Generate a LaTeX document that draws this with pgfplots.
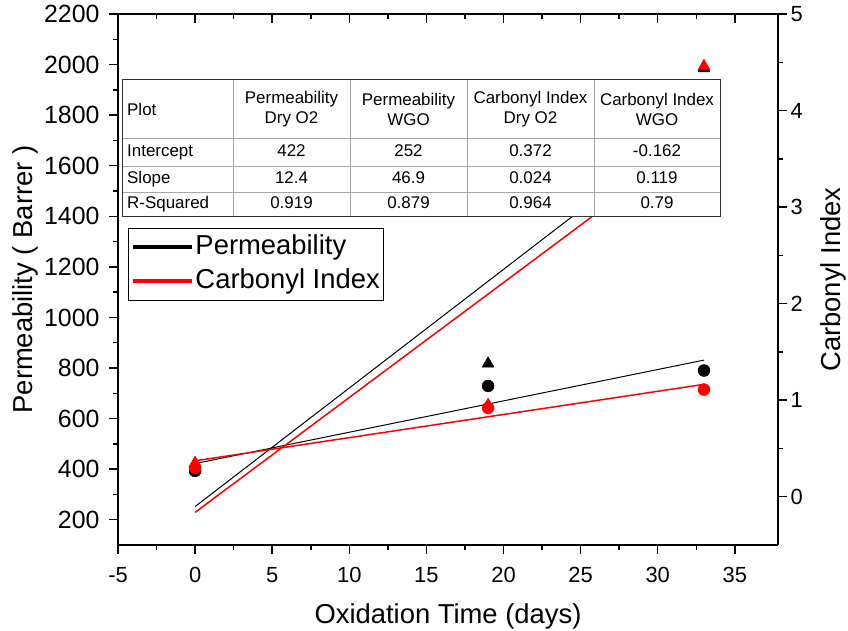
\documentclass[border=0pt]{standalone}
\usepackage{fontspec}
\setmainfont{Liberation Sans}
\usepackage{pgfplots}
\pgfplotsset{compat=1.18}
\begin{document}
\begin{tikzpicture}
\path[use as bounding box] (-118bp,-86bp) rectangle (730bp,545bp);
\pgfplotsset{
 common/.style={scale only axis, width=660bp, height=531bp, xmin=-5, xmax=37.8,
   at={(0bp,0bp)}, anchor=south west,
   /pgf/number format/assume math mode=true,
   /pgf/number format/1000 sep={},
   tick label style={font=\fontsize{22}{24}\selectfont},
   xticklabel shift=10bp,
   label style={font=\fontsize{27.5}{30}\selectfont},
   axis line style={-, line width=1.5bp},
   tick style={line width=1.5bp, black},
   major tick length=9bp, minor tick length=5bp,
   xtick={-5,0,...,35}, minor x tick num=1},
}
% left axis: permeability
\begin{axis}[common, ymin=100, ymax=2200,
  axis x line*=bottom, axis y line*=left, tick align=outside,
  ytick={200,400,...,2200}, minor y tick num=1,
  yticklabel style={font=\fontsize{25}{27}\selectfont, xshift=-6bp},
  xlabel={Oxidation Time (days)}, ylabel={Permeability ( Barrer )},
  xlabel style={at={(axis description cs:0.5,-0.1337)}, anchor=center},
  ylabel style={at={(axis description cs:-0.1409,0.5)}, anchor=center},
  legend style={at={(axis description cs:0.01515,0.597)}, anchor=north west,
    draw=black, line width=1bp, font=\fontsize{27.5}{30}\selectfont,
    inner xsep=3bp, inner ysep=5bp, row sep=6bp,
    nodes={inner sep=1bp, text height=20bp, text depth=6bp}},
  legend cell align=left,
  legend image code/.code={\draw[#1] (0bp,0bp) -- (59bp,0bp);},
  clip=false]
\addplot[forget plot, only marks, mark=*, mark size=6bp, black] coordinates {(0,393) (19,729) (33,790)};
\addplot[forget plot, only marks, mark=triangle*, mark size=7bp, black] coordinates {(0,398) (19,817) (33,1985)};
\addplot[forget plot, black, line width=1bp] coordinates {(0,422) (33,831.2)};
\addplot[forget plot, black, line width=1bp] coordinates {(0,252) (33,1799.7)};
\addlegendimage{black, line width=4bp}
\addlegendentry{Permeability}
\addlegendimage{red, line width=4bp}
\addlegendentry{Carbonyl Index}
\end{axis}
% right axis: carbonyl index
\begin{axis}[common, ymin=-0.5, ymax=5,
  axis x line=none, axis y line*=right, tick align=outside,
  ytick={0,1,...,5}, minor y tick num=1,
  ylabel={Carbonyl Index},
  ylabel style={at={(axis description cs:1.0833,0.5)}, anchor=center},
  clip=false]
\addplot[only marks, mark=*, mark size=6bp, red] coordinates {(0,0.30) (19,0.92) (33,1.11)};
\addplot[only marks, mark=triangle*, mark size=7bp, red] coordinates {(0,0.35) (19,0.95) (33,4.46)};
\addplot[red, line width=1.5bp] coordinates {(0,0.372) (33,1.164)};
\addplot[red, line width=1.5bp] coordinates {(0,-0.162) (33,3.765)};
\end{axis}
% top axis line with inward ticks
\begin{axis}[common, ymin=0, ymax=1,
  axis x line*=top, axis y line=none, tick align=inside,
  xticklabels={}]
\end{axis}
% fit table
\fill[white] (4bp,328bp) rectangle (602bp,465bp);
\draw[black!35, line width=0.8bp]
  (4bp,407bp) -- (602bp,407bp)
  (4bp,379bp) -- (602bp,379bp)
  (4bp,353bp) -- (602bp,353bp)
  (115bp,328bp) -- (115bp,465bp)
  (232bp,328bp) -- (232bp,465bp)
  (349bp,328bp) -- (349bp,465bp)
  (476bp,328bp) -- (476bp,465bp);
\draw[black!80, line width=1bp] (4bp,328bp) rectangle (602bp,465bp);
\begin{scope}[every node/.style={font=\fontsize{17}{20}\selectfont, inner sep=0pt}]
\node[anchor=west] at (9bp,436bp) {Plot};
\node[align=center] at (173.5bp,436bp) {Permeability\\Dry O2};
\node[align=center] at (290.5bp,436bp) {Permeability\\WGO};
\node[align=center] at (412.5bp,436bp) {Carbonyl Index\\Dry O2};
\node[align=center] at (539bp,436bp) {Carbonyl Index\\WGO};
\begin{scope}[every node/.append style={text height=12bp, text depth=3.5bp}]
\node[anchor=west] at (9bp,393bp) {Intercept};
\node at (173.5bp,393bp) {422};
\node at (290.5bp,393bp) {252};
\node at (412.5bp,393bp) {0.372};
\node at (539bp,393bp) {-0.162};
\node[anchor=west] at (9bp,366bp) {Slope};
\node at (173.5bp,366bp) {12.4};
\node at (290.5bp,366bp) {46.9};
\node at (412.5bp,366bp) {0.024};
\node at (539bp,366bp) {0.119};
\node[anchor=west] at (9bp,340.5bp) {R-Squared};
\node at (173.5bp,340.5bp) {0.919};
\node at (290.5bp,340.5bp) {0.879};
\node at (412.5bp,340.5bp) {0.964};
\node at (539bp,340.5bp) {0.79};
\end{scope}
\end{scope}
\end{tikzpicture}
\end{document}
